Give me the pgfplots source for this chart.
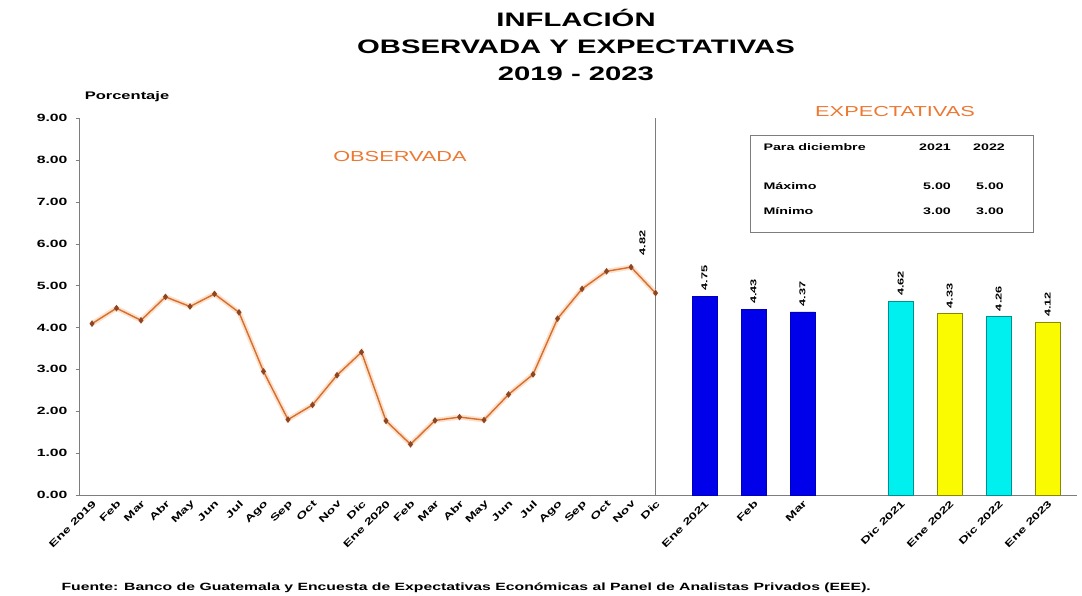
\documentclass[border=0pt]{standalone}
\usepackage{fontspec}
\setmainfont{Liberation Sans}[FakeStretch=1.5]
\usepackage{pgfplots}
\pgfplotsset{compat=1.18}
\definecolor{obsline}{RGB}{214,110,45}
\definecolor{obsglow}{RGB}{250,205,170}
\definecolor{obsmark}{RGB}{140,70,35}
\definecolor{orangetxt}{RGB}{236,120,50}
\definecolor{axgray}{RGB}{125,125,125}
\definecolor{barblue}{RGB}{0,0,235}
\definecolor{barcyan}{RGB}{0,240,240}
\definecolor{baryellow}{RGB}{250,250,0}

\pgfplotstableread{
x  y
0  4.09
1  4.46
2  4.17
3  4.73
4  4.50
5  4.80
6  4.36
7  2.95
8  1.80
9  2.15
10 2.86
11 3.41
12 1.77
13 1.21
14 1.78
15 1.86
16 1.79
17 2.40
18 2.88
19 4.21
20 4.92
21 5.34
22 5.44
23 4.82
}\observada

\begin{document}
\begin{tikzpicture}
\begin{axis}[
  at={(0,0)}, anchor=south west,
  scale only axis, width=998pt, height=377pt,
  xmin=-0.53, xmax=40.2, ymin=0, ymax=9,
  clip=false,
  axis lines=left,
  axis line style={-, axgray, line width=0.9pt},
  ytick={0,...,9},
  tick align=outside, major tick length=3pt,
  ytick style={axgray},
  xtick style={draw=none},
  /pgf/number format/assume math mode=true,
  yticklabel style={font=\fontsize{10.5}{12}\selectfont\bfseries,
    /pgf/number format/fixed, /pgf/number format/precision=2,
    /pgf/number format/zerofill, xshift=-5pt},
  xtick={0,...,23,25,27,29,33,35,37,39},
  xticklabels={Ene 2019,Feb,Mar,Abr,May,Jun,Jul,Ago,Sep,Oct,Nov,Dic,
    Ene 2020,Feb,Mar,Abr,May,Jun,Jul,Ago,Sep,Oct,Nov,Dic,
    Ene 2021,Feb,Mar,Dic 2021,Ene 2022,Dic 2022,Ene 2023},
  xticklabel style={rotate=45, anchor=north east, inner sep=1pt,
    font=\fontsize{9.5}{10}\selectfont\bfseries},
  every node near coord/.append style={rotate=90, anchor=west,
    font=\fontsize{8.5}{10}\selectfont\bfseries, black},
]
% separator between observed and expected
\addplot[axgray, line width=1pt] coordinates {(23,0) (23,9)};

% observed inflation 2019-2020 (soft halo, then the line)
\addplot[obsglow, line width=5pt, opacity=0.6] table[x=x, y=y] {\observada};
\addplot[obsline, line width=1.4pt, mark=diamond*, mark size=2.2pt,
  mark options={fill=obsmark, draw=obsmark}] table[x=x, y=y] {\observada};
\addplot[draw=none, nodes near coords,
  every node near coord/.append style={xshift=34pt, yshift=13pt}]
  coordinates {(23,4.82)};

% expectations
\addplot[ybar, bar shift=0pt, bar width=25pt, fill=barblue, draw=barblue!80!black,
  nodes near coords, every node near coord/.append style={xshift=2pt}]
  coordinates {(25,4.75) (27,4.43) (29,4.37)};
\addplot[ybar, bar shift=0pt, bar width=25pt, fill=barcyan, draw=barcyan!60!black,
  nodes near coords, every node near coord/.append style={xshift=2pt}]
  coordinates {(33,4.62) (37,4.26)};
\addplot[ybar, bar shift=0pt, bar width=25pt, fill=baryellow, draw=baryellow!55!black,
  nodes near coords, every node near coord/.append style={xshift=2pt}]
  coordinates {(35,4.33) (39,4.12)};
\end{axis}

% titles and notes (1pt = 1px of the reference, axis box at (0,0)-(998,377))
\path[use as bounding box] (-79pt,-100pt) rectangle (1003pt,495pt);
\node[font=\fontsize{19.5}{27}\selectfont\bfseries, align=center] at (497pt,450pt)
  {INFLACIÓN\\OBSERVADA Y EXPECTATIVAS\\2019 - 2023};
\node[font=\fontsize{11}{12}\selectfont\bfseries] at (48pt,398pt) {Porcentaje};
\node[font=\fontsize{14.5}{16}\selectfont, orangetxt] at (321pt,338pt) {OBSERVADA};
\node[font=\fontsize{14.5}{16}\selectfont, orangetxt] at (816pt,383pt) {EXPECTATIVAS};

\draw[axgray, line width=0.8pt] (671pt,263pt) rectangle (954pt,360pt);
\begin{scope}[font=\fontsize{9.5}{11}\selectfont\bfseries]
\node[anchor=west] at (681pt,348pt) {Para diciembre};
\node at (856pt,348pt) {2021};
\node at (910pt,348pt) {2022};
\node[anchor=west] at (681pt,309pt) {Máximo};
\node at (858pt,309pt) {5.00};
\node at (911pt,309pt) {5.00};
\node[anchor=west] at (681pt,284pt) {Mínimo};
\node at (858pt,284pt) {3.00};
\node at (911pt,284pt) {3.00};
\end{scope}

\node[anchor=west, font=\fontsize{10.5}{12}\selectfont\bfseries] at (-21pt,-93pt)
  {Fuente: Banco de Guatemala y Encuesta de Expectativas Económicas al Panel de Analistas Privados (EEE).};
\end{tikzpicture}
\end{document}
